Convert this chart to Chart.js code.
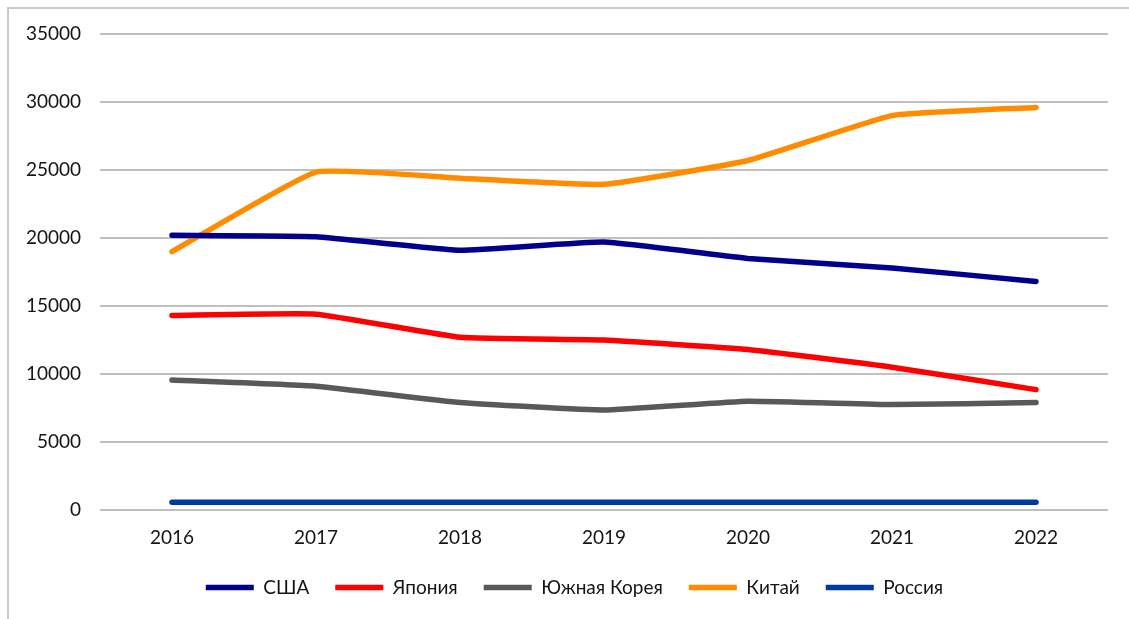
<!DOCTYPE html>
<html lang="ru">
<head>
<meta charset="UTF-8">
<title>Производство по странам</title>
<style>
  html, body { margin: 0; padding: 0; background: #fff; }
  body { width: 1129px; height: 619px; overflow: hidden; position: relative; }
  .frame { position: absolute; left: 7px; top: 7px; width: 1200px; height: 700px;
           border-left: 2px solid #c9c9c9; border-top: 2px solid #c9c9c9; }
  .chart-box { position: absolute; left: 0; top: 0; width: 1129px; height: 619px; }
</style>
</head>
<body>
<div class="frame"></div>
<div class="chart-box"><canvas id="chart" width="1129" height="619"></canvas></div>

<script src="https://cdn.jsdelivr.net/npm/chart.js"></script>
<script>
  // Годы и значения по странам
  const years = ['2016', '2017', '2018', '2019', '2020', '2021', '2022'];
  const usa = [20200, 20100, 19100, 19700, 18500, 17800, 16800];
  const japan = [14300, 14400, 12700, 12500, 11800, 10500, 8850];
  const korea = [9550, 9100, 7900, 7350, 8000, 7750, 7900];
  const china = [19000, 24850, 24400, 23950, 25700, 29000, 29600];
  const russia = [570, 570, 570, 570, 570, 570, 570];

  const yTicks = { min: 0, max: 35000, step: 5000 };

  const font = { family: 'Lato, "Open Sans", "DejaVu Sans", sans-serif', size: 19 };
  const textColor = '#141414';

  function series(label, data, color) {
    return {
      label: label,
      data: data,
      borderColor: color,
      backgroundColor: color,
      borderWidth: 5.5,
      borderCapStyle: 'round',
      borderJoinStyle: 'round',
      pointRadius: 0,
      pointHoverRadius: 0,
      tension: 0.12,
      fill: false
    };
  }

  // легенда чуть смещена вправо относительно центра
  const legendShift = {
    id: 'legendShift',
    afterLayout(chart) {
      if (chart.legend) chart.legend.left += 41;
    }
  };

  new Chart(document.getElementById('chart'), {
    type: 'line',
    data: {
      labels: years,
      datasets: [
        series('США', usa, '#00008c'),
        series('Япония', japan, '#ff0000'),
        series('Южная Корея', korea, '#595959'),
        series('Китай', china, '#ff8c00'),
        series('Россия', russia, '#0039a6')
      ]
    },
    plugins: [legendShift],
    options: {
      responsive: false,
      animation: false,
      maintainAspectRatio: false,
      layout: { padding: { left: 0, right: 21, top: 34, bottom: 12 } },
      plugins: {
        tooltip: { enabled: false },
        legend: {
          position: 'bottom',
          labels: {
            usePointStyle: true,
            pointStyle: 'line',
            pointStyleWidth: 48,
            color: textColor,
            font: font,
            padding: 26
          }
        }
      },
      scales: {
        x: {
          offset: true,
          grid: { display: false, drawTicks: false },
          border: { display: false },
          ticks: { color: textColor, font: font, padding: 16, maxRotation: 0 },
          afterFit: s => { s.height = 42; }
        },
        y: {
          min: yTicks.min,
          max: yTicks.max,
          border: { display: false },
          grid: { color: '#c0c0c0', lineWidth: 2, drawTicks: false },
          ticks: {
            stepSize: yTicks.step,
            color: textColor,
            font: font,
            padding: 19,
            callback: v => String(v)
          },
          afterFit: s => { s.width = 100; }
        }
      }
    }
  });
</script>
</body>
</html>
